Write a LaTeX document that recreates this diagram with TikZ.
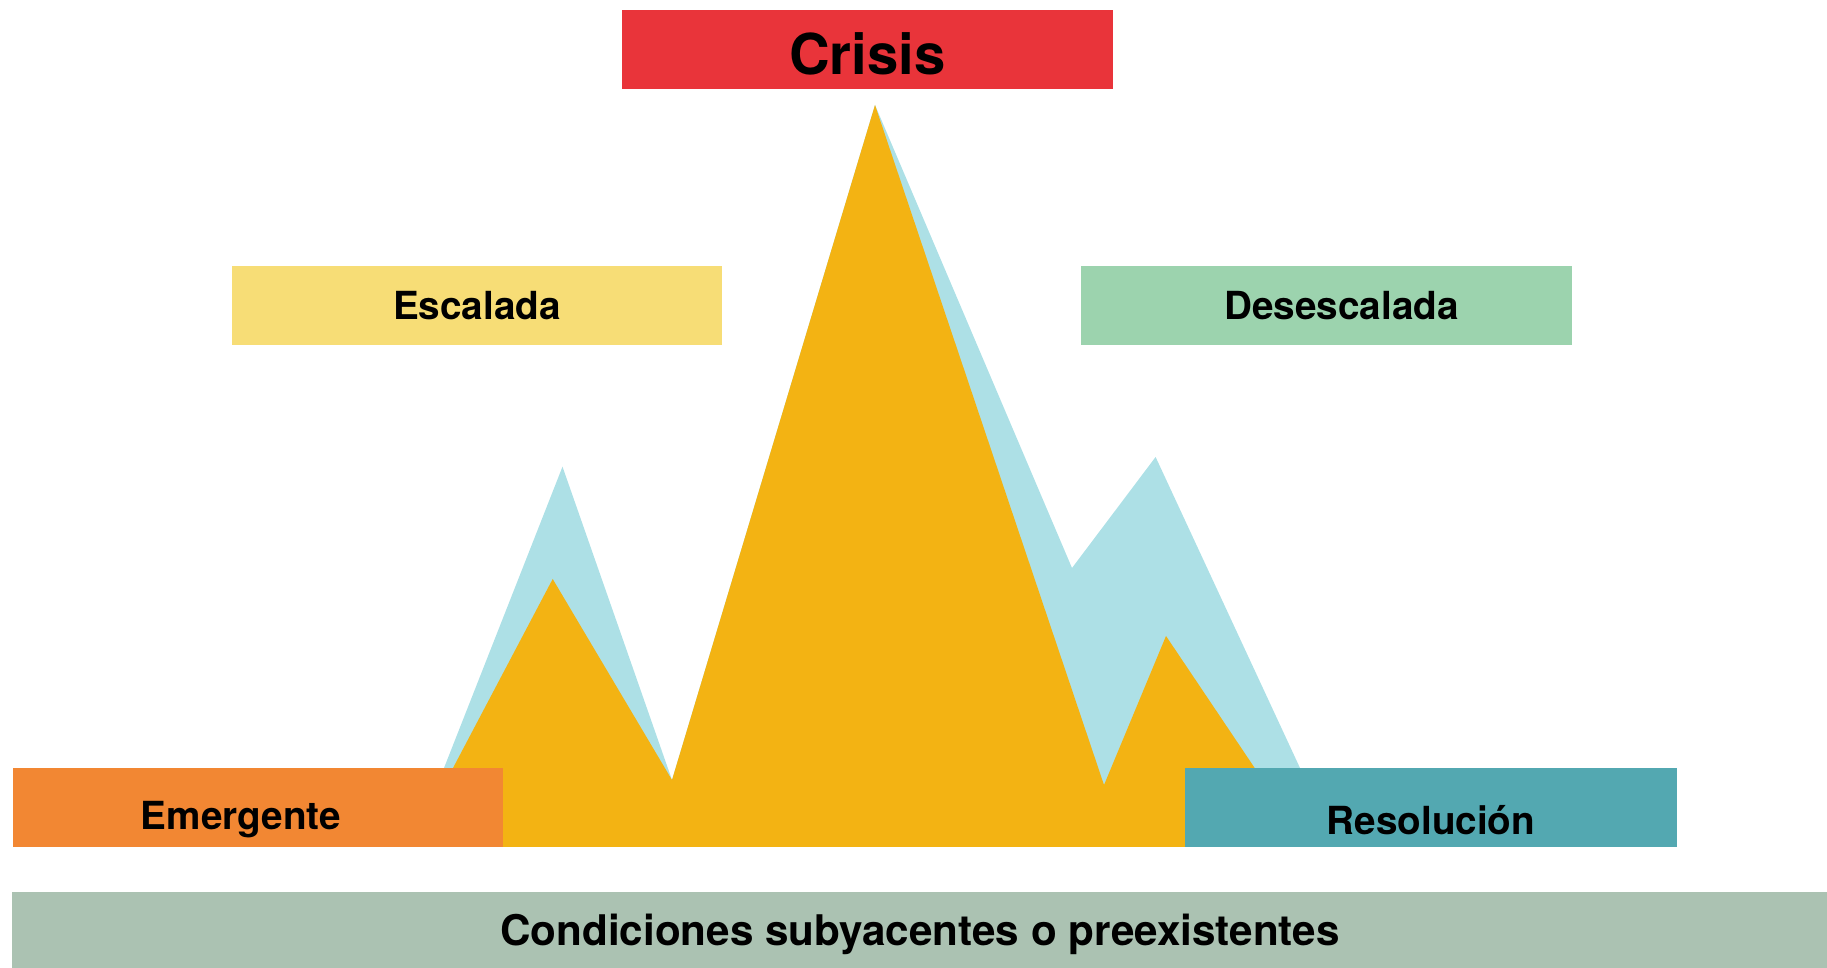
\documentclass[tikz,border=0pt]{standalone}
\usepackage{fontspec}
\setmainfont{TeX Gyre Heros}
\usepackage{tikz}
\usetikzlibrary{positioning}

\definecolor{crisisred}{RGB}{233,52,58}
\definecolor{escyellow}{RGB}{247,221,118}
\definecolor{desgreen}{RGB}{156,211,174}
\definecolor{emorange}{RGB}{242,135,51}
\definecolor{resteal}{RGB}{83,168,177}
\definecolor{basegreen}{RGB}{171,194,178}
\definecolor{peakorange}{RGB}{243,179,19}
\definecolor{peakblue}{RGB}{173,224,230}

\begin{document}
\begin{tikzpicture}[x=0.01cm, y=-0.01cm,
                stage/.style n args={3}{fill=#1,
                    minimum width=#2,
                    minimum height=#3,
                    inner sep=0pt,
                    rectangle,
                    font=\bfseries\fontsize{11}{13}\selectfont,
                    text height=7.9pt, text depth=0pt}]
    \useasboundingbox (0,0) rectangle (1827,968);
    % mountains
    \fill[peakblue] (444,768) -- (562.5,466.7) -- (672,780) -- (875,105) -- (1072,568)
        -- (1155.6,457) -- (1300,768) -- (1330,847) -- (420,847) -- cycle;
    \fill[peakorange] (453,768) -- (552.7,579) -- (672,780) -- (875,105) -- (1104,785)
        -- (1166,636) -- (1254.7,768) -- (1300,847) -- (420,847) -- cycle;
    % stages
    \node[stage={crisisred}{4.91cm}{0.79cm},
          font=\bfseries\fontsize{16}{19}\selectfont, text height=14.1pt] (crisis) at (867.5,49.5) {Crisis};
    \node[stage={escyellow}{4.90cm}{0.79cm}] (escalada) at (477,305.5) {Escalada};
    \node[stage={desgreen}{4.91cm}{0.79cm}] (desescalada) at (1326.5,305.5) {\hspace*{0.3cm}Desescalada};
    \node[stage={emorange}{4.90cm}{0.79cm}, text height=12.5pt] (emergente) at (258,807.5) {Emergente\hspace*{0.34cm}};
    \node[stage={resteal}{4.92cm}{0.79cm}, text height=15.6pt] (resolucion) at (1431,807.5) {Resolución};
    \node[stage={basegreen}{18.14cm}{0.76cm},
          font=\bfseries\fontsize{12}{14}\selectfont, text height=8.6pt] (condiciones) at (920,930) {Condiciones subyacentes o preexistentes};
\end{tikzpicture}
\end{document}
